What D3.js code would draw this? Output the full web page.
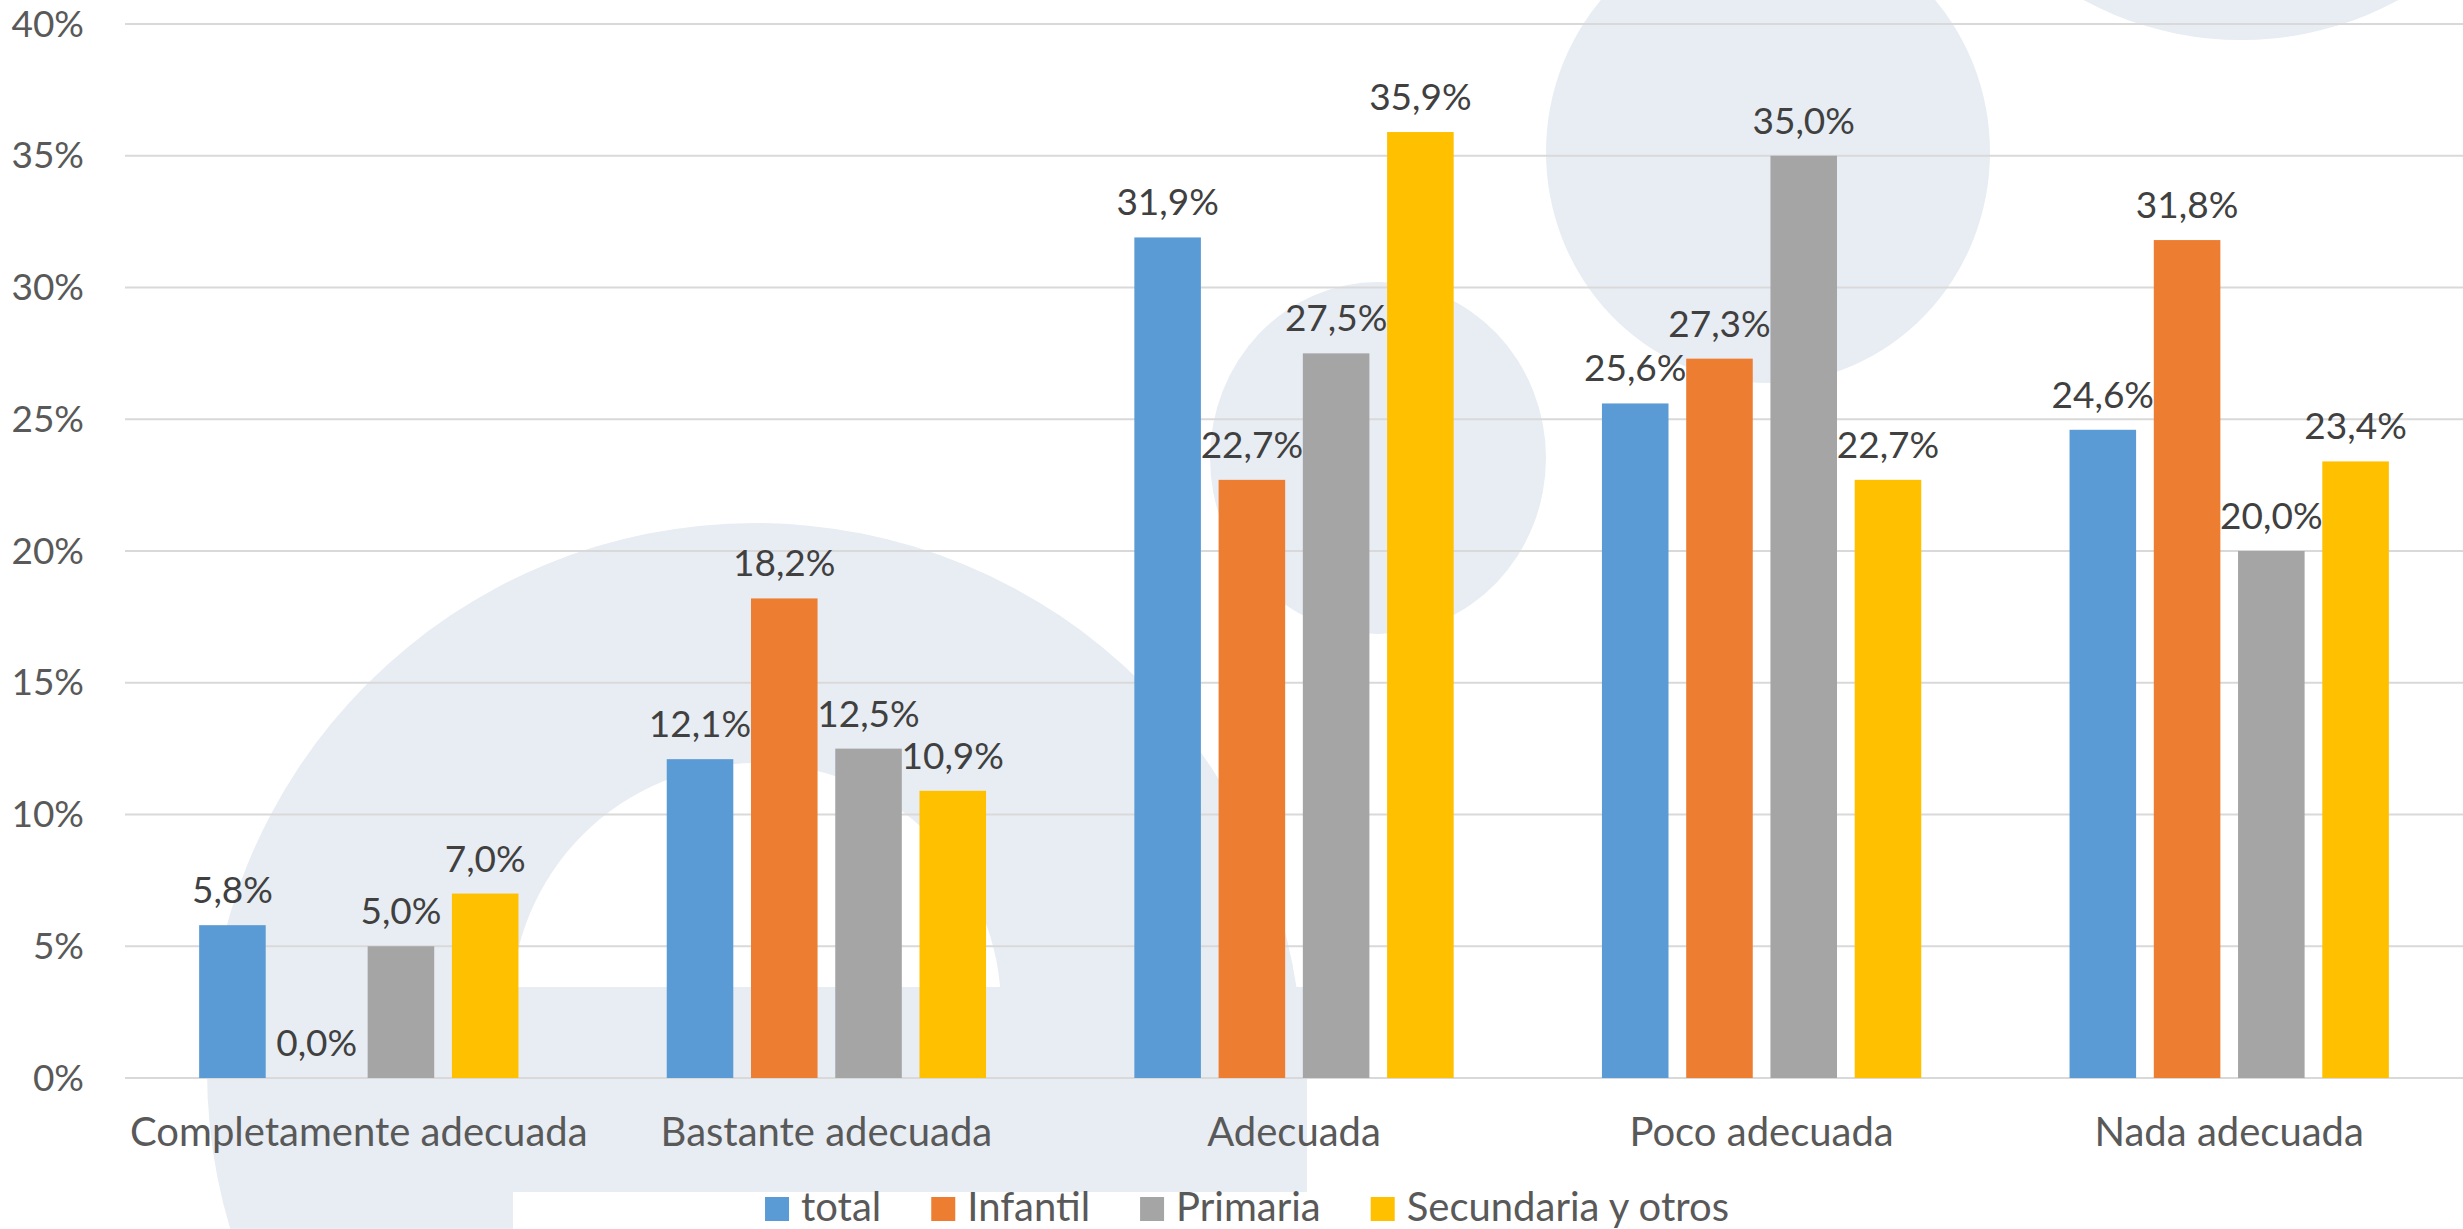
<!DOCTYPE html>
<html>
<head>
<meta charset="utf-8">
<script src="https://cdn.jsdelivr.net/npm/d3@7"></script>
<style>
  body { margin: 0; background: #fff; }
  svg { display: block; font-family: Lato, "Open Sans", sans-serif; }
</style>
</head>
<body>
<svg id="chart" width="2463" height="1229"></svg>
<script>
"use strict";

var categories = ["Completamente adecuada", "Bastante adecuada", "Adecuada", "Poco adecuada", "Nada adecuada"];
var seriesNames = ["total", "Infantil", "Primaria", "Secundaria y otros"];
var seriesColors = ["#5B9BD5", "#ED7D31", "#A5A5A5", "#FFC000"];

var totalValues = [5.8, 12.1, 31.9, 25.6, 24.6];
var infantilValues = [0.0, 18.2, 22.7, 27.3, 31.8];
var primariaValues = [5.0, 12.5, 27.5, 35.0, 20.0];
var secundariaValues = [7.0, 10.9, 35.9, 22.7, 23.4];

var yTicks = [0, 5, 10, 15, 20, 25, 30, 35, 40];

var allValues = [totalValues, infantilValues, primariaValues, secundariaValues];

var svg = d3.select("#chart"),
    margin = {top: 24, right: 0, bottom: 151, left: 125},
    width = +svg.attr("width") - margin.left - margin.right,
    height = +svg.attr("height") - margin.top - margin.bottom;

var numberSize = 37;   // value labels and y ticks
var wordSize = 40;     // category names and legend
var lightFill = "#E8EDF3";

// background decoration (the faded logo shapes behind the plot)
var deco = svg.append("g");
deco.append("circle").attr("cx", 755).attr("cy", 1071).attr("r", 548).attr("fill", lightFill);
deco.append("ellipse").attr("cx", 1378).attr("cy", 458).attr("rx", 168).attr("ry", 176).attr("fill", lightFill);
deco.append("ellipse").attr("cx", 1768).attr("cy", 152).attr("rx", 222).attr("ry", 231).attr("fill", lightFill);
deco.append("circle").attr("cx", 2241).attr("cy", -290).attr("r", 330).attr("fill", lightFill);

svg.append("clipPath").attr("id", "holeClip")
  .append("rect").attr("x", 0).attr("y", 0).attr("width", 2463).attr("height", 987);
deco.append("circle")
    .attr("cx", 756).attr("cy", 1008).attr("r", 245)
    .attr("fill", "#fff")
    .attr("clip-path", "url(#holeClip)");
deco.append("rect").attr("x", 513).attr("y", 987).attr("width", 794).attr("height", 205).attr("fill", lightFill);
deco.append("rect").attr("x", 513).attr("y", 1192).attr("width", 900).attr("height", 40).attr("fill", "#fff");

var g = svg.append("g").attr("transform", "translate(" + margin.left + "," + margin.top + ")");

var x0 = d3.scaleBand()
    .domain(categories)
    .range([0, width]);

var x1 = d3.scaleBand()
    .domain(seriesNames)
    .range([0, x0.bandwidth()])
    .paddingInner(0.21)
    .paddingOuter(0.88);

var y = d3.scaleLinear()
    .domain([0, 40])
    .range([height, 0]);

// gridlines
g.append("g")
  .selectAll("line")
  .data(yTicks)
  .enter().append("line")
    .attr("x1", 0)
    .attr("x2", width)
    .attr("y1", function(d) { return y(d); })
    .attr("y2", function(d) { return y(d); })
    .attr("stroke", "#D9D9D9")
    .attr("stroke-width", 2);

// y axis labels
var yAxis = d3.axisLeft(y)
    .tickValues(yTicks)
    .tickSize(0)
    .tickPadding(41)
    .tickFormat(function(d) { return d + "%"; });

g.append("g")
    .call(yAxis)
    .call(function(a) { a.select(".domain").remove(); })
  .selectAll("text")
    .attr("font-family", "Lato, sans-serif")
    .attr("font-size", numberSize)
    .attr("fill", "#595959")
    .attr("dy", "0.33em");

// x axis labels
var xAxis = d3.axisBottom(x0).tickSize(0).tickPadding(0);
g.append("g")
    .attr("transform", "translate(0," + height + ")")
    .call(xAxis)
    .call(function(a) { a.select(".domain").remove(); })
  .selectAll("text")
    .attr("font-family", "Lato, sans-serif")
    .attr("font-size", wordSize)
    .attr("fill", "#595959")
    .attr("dy", null)
    .attr("y", 68);

// bars
var rows = categories.map(function(c, i) {
  return seriesNames.map(function(s, j) {
    return {category: c, series: s, value: allValues[j][i], color: seriesColors[j]};
  });
});

var groups = g.selectAll(".group")
    .data(rows)
  .enter().append("g")
    .attr("class", "group")
    .attr("transform", function(d) { return "translate(" + x0(d[0].category) + ",0)"; });

groups.selectAll("rect")
    .data(function(d) { return d; })
  .enter().append("rect")
    .attr("x", function(d) { return x1(d.series); })
    .attr("y", function(d) { return y(d.value); })
    .attr("width", x1.bandwidth())
    .attr("height", function(d) { return y(0) - y(d.value); })
    .attr("fill", function(d) { return d.color; });

function formatPct(v) {
  return d3.format(".1f")(v).replace(".", ",") + "%";
}

groups.selectAll("text")
    .data(function(d) { return d; })
  .enter().append("text")
    .attr("x", function(d) { return x1(d.series) + x1.bandwidth() / 2; })
    .attr("y", function(d) { return y(d.value) - 22; })
    .attr("text-anchor", "middle")
    .attr("font-size", numberSize)
    .attr("fill", "#404040")
    .text(function(d) { return formatPct(d.value); });

// legend, centred under the plot
var legend = svg.append("g");
var items = legend.selectAll("g")
    .data(seriesNames)
  .enter().append("g");

items.append("rect")
    .attr("width", 24)
    .attr("height", 24)
    .attr("y", 1197)
    .attr("fill", function(d, i) { return seriesColors[i]; });

items.append("text")
    .attr("x", 36)
    .attr("y", 1221)
    .attr("font-size", wordSize)
    .attr("fill", "#595959")
    .text(function(d) { return d; });

var offsets = [], pos = 0;
items.each(function(d, i) {
  offsets.push(pos);
  var w = 36 + this.querySelector("text").getComputedTextLength();
  pos += w + (i < seriesNames.length - 1 ? 50 : 0);
});
var legendStart = 1247 - pos / 2;
items.attr("transform", function(d, i) { return "translate(" + (legendStart + offsets[i]) + ",0)"; });
</script>
</body>
</html>
